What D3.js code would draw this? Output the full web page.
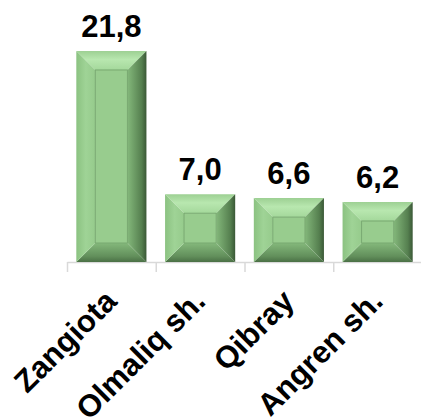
<!DOCTYPE html>
<html>
<head>
<meta charset="utf-8">
<script src="https://cdn.jsdelivr.net/npm/d3@7"></script>
<style>
  html, body { margin: 0; padding: 0; background: #fff; }
  text { font-family: "Liberation Sans", Arial, sans-serif; font-weight: bold; fill: #000; }
</style>
</head>
<body>
<div id="chart"></div>
<script>
const categories = ["Zangiota", "Olmaliq sh.", "Qibray", "Angren sh."]
const values = [21.8, 7.0, 6.6, 6.2]

const W = 421, H = 420
const BASE = 262
const BEVEL = 19

const svg = d3.select("#chart").append("svg")
  .attr("width", W)
  .attr("height", H)

// comma decimal like the source
const fmt = d3.formatLocale({ decimal: ",", thousands: " ", grouping: [3], currency: ["", ""] }).format(".1f")

// Scales
const x = d3.scaleBand()
  .domain(categories)
  .range([67, 422])
  .paddingInner(0.21)
  .paddingOuter(0.105)
const y = d3.scaleLinear()
  .domain([0, 25])
  .range([BASE, BASE - 25 * 9.68])

// gradients for the bevel sides
const defs = svg.append("defs")
function grad(id, dir, stops) {
  const g = defs.append("linearGradient").attr("id", id)
    .attr("x1", dir[0]).attr("y1", dir[1]).attr("x2", dir[2]).attr("y2", dir[3])
  stops.forEach(s => g.append("stop").attr("offset", s[0]).attr("stop-color", s[1]))
}
grad("bvTop", [0, 0, 0, 1], [[0, "#9dd093"], [0.45, "#b8e7af"], [1, "#a4d89b"]])
grad("bvLeft", [0, 0, 1, 0], [[0, "#8bc281"], [0.5, "#9fd396"], [1, "#96cb8c"]])
grad("bvRight", [1, 0, 0, 0], [[0, "#3a5836"], [0.25, "#557f4f"], [1, "#84b87b"]])
grad("bvBottom", [0, 1, 0, 0], [[0, "#4a7045"], [0.3, "#628f5b"], [1, "#84b87b"]])

// X axis, ticks between categories
const tickScale = d3.scaleLinear().domain([0, categories.length]).range(x.range())
const xAxisCall = d3.axisBottom(tickScale)
  .ticks(categories.length)
  .tickFormat("")
  .tickSizeInner(10)
  .tickSizeOuter(0)
const xAxis = svg.append("g")
  .attr("class", "x axis")
  .attr("transform", `translate(0, ${BASE})`)
  .call(xAxisCall)
xAxis.selectAll("path, line").attr("stroke", "#d9d9d9").attr("stroke-width", 1.5)

// Bars
const bars = svg.selectAll("g.bar")
  .data(categories.map((c, i) => ({ c, v: values[i] })))
  .enter().append("g")
  .attr("class", "bar")

bars.each(function (d) {
  const g = d3.select(this)
  const x0 = x(d.c), x1 = x(d.c) + x.bandwidth()
  const y0 = y(d.v), y1 = y(0)
  const b = Math.min(BEVEL, (y1 - y0) / 2 - 4)
  const pts = p => p.map(q => q.join(",")).join(" ")
  g.append("polygon").attr("fill", "url(#bvTop)")
    .attr("points", pts([[x0, y0], [x1, y0], [x1 - b, y0 + b], [x0 + b, y0 + b]]))
  g.append("polygon").attr("fill", "url(#bvBottom)")
    .attr("points", pts([[x0, y1], [x1, y1], [x1 - b, y1 - b], [x0 + b, y1 - b]]))
  g.append("polygon").attr("fill", "url(#bvLeft)")
    .attr("points", pts([[x0, y0], [x0 + b, y0 + b], [x0 + b, y1 - b], [x0, y1]]))
  g.append("polygon").attr("fill", "url(#bvRight)")
    .attr("points", pts([[x1, y0], [x1 - b, y0 + b], [x1 - b, y1 - b], [x1, y1]]))
  g.append("rect")
    .attr("x", x0 + b).attr("y", y0 + b)
    .attr("width", x1 - x0 - 2 * b).attr("height", y1 - y0 - 2 * b)
    .attr("fill", "#98cc8e")
    .attr("stroke", "#78a970")
    .attr("stroke-width", 1)
})

// Value labels
svg.selectAll("text.value")
  .data(values)
  .enter().append("text")
  .attr("class", "value")
  .attr("x", (d, i) => x(categories[i]) + x.bandwidth() / 2)
  .attr("y", d => y(d) - 14)
  .attr("text-anchor", "middle")
  .attr("font-size", "31px")
  .text(d => fmt(d))

// Category labels, rotated
svg.selectAll("text.cat")
  .data(categories)
  .enter().append("text")
  .attr("class", "cat")
  .attr("text-anchor", "end")
  .attr("font-size", "31px")
  .attr("transform", d => `translate(${x(d) + x.bandwidth() / 2 + 7}, 303) rotate(-45)`)
  .text(d => d)
</script>
</body>
</html>
